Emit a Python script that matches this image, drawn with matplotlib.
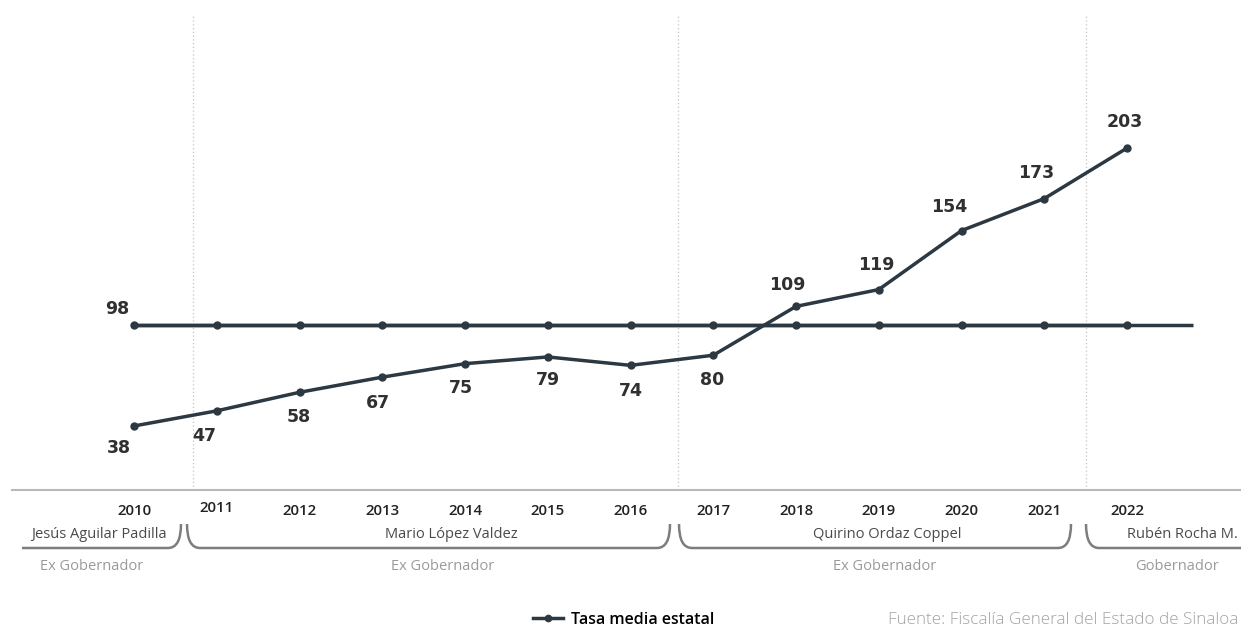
import matplotlib
matplotlib.use("Agg")
import matplotlib.pyplot as plt
from matplotlib.lines import Line2D
from matplotlib.path import Path
from matplotlib.patches import PathPatch

plt.rcParams['font.family'] = ['Open Sans', 'DejaVu Sans']

# datos
years = [2010, 2011, 2012, 2013, 2014, 2015, 2016, 2017, 2018, 2019, 2020, 2021, 2022]
tasa = [38, 47, 58, 67, 75, 79, 74, 80, 109, 119, 154, 173, 203]
media = [98] * len(years)
media_fin = 2022.8
cambios_gobierno = [2010.71, 2016.57, 2021.5]
gobernadores = ['Jesús Aguilar Padilla', 'Mario López Valdez', 'Quirino Ordaz Coppel', 'Rubén Rocha M.']
cargos = ['Ex Gobernador', 'Ex Gobernador', 'Ex Gobernador', 'Gobernador']
leyenda = 'Tasa media estatal'
fuente = 'Fuente: Fiscalía General del Estado de Sinaloa'

# desplazamiento de etiquetas (pixeles)
offs_tasa = [(-15, -22), (-13, -25), (-1, -25), (-4, -26), (-4, -24), (0, -23), (0, -26),
             (-1, -25), (-9, 21), (-2, 25), (-12, 24), (-8, 26), (-2, 26)]
offs_media = (-17, 16)

W, H = 1241, 627
color_linea = '#2c3842'

fig = plt.figure(figsize=(W / 100, H / 100), dpi=100)
ax = fig.add_axes([12 / W, 137 / H, 1 - 12 / W, 475 / H])
ax.set_xlim(2010 - 122 / 82.75, 2010 + 1107 / 82.75)
ax.set_ylim(0, 282)

# lineas divisorias entre gobiernos
ax.vlines(cambios_gobierno, 0, 282, colors='#c2c2c2', linestyles=(0, (1, 2)), lw=0.9)

# tasa media (linea horizontal)
ax.plot([years[0], media_fin], [media[0], media[-1]], color=color_linea, lw=2.5, solid_capstyle='butt')
ax.plot(years, media, color=color_linea, lw=2.5, marker='o', markersize=5)
ax.plot(years, tasa, color=color_linea, lw=2.5, marker='o', markersize=5)

for x, v, (dx, dy) in zip(years, tasa, offs_tasa):
    ax.annotate(str(v), (x, v), xytext=(dx, dy), textcoords='offset pixels',
                ha='center', va='center', fontsize=12.5, fontweight='bold',
                family='DejaVu Sans', color='#303030')
ax.annotate(str(media[0]), (years[0], media[0]), xytext=offs_media, textcoords='offset pixels',
            ha='center', va='center', fontsize=12.5, fontweight='bold',
            family='DejaVu Sans', color='#303030')

ax.set_xticks(years, [str(y) for y in years])
ax.tick_params(axis='x', length=0, pad=10, labelsize=10.8, labelcolor='#222222')
for lbl in ax.get_xticklabels():
    lbl.set_fontweight('semibold')
ax.get_xticklabels()[1].set_y(0.007)
ax.set_yticks([])
for s in ['top', 'left', 'right']:
    ax.spines[s].set_visible(False)
ax.spines['bottom'].set_color('#b8b8b8')
ax.spines['bottom'].set_linewidth(1.5)

# zona inferior: llaves y nombres de gobernadores
deco = fig.add_axes([0, 0, 1, 1])
deco.set_xlim(0, W)
deco.set_ylim(H, 0)
deco.axis('off')
deco.patch.set_alpha(0)


def llave(x0, x1, gancho_izq, gancho_der, y=548, top=524, r=13):
    verts, codes = [], []
    if gancho_izq:
        verts += [(x0, top), (x0, y), (x0 + r, y)]
        codes += [Path.MOVETO, Path.CURVE3, Path.CURVE3]
    else:
        verts += [(x0, y)]
        codes += [Path.MOVETO]
    if gancho_der:
        verts += [(x1 - r, y), (x1, y), (x1, top)]
        codes += [Path.LINETO, Path.CURVE3, Path.CURVE3]
    else:
        verts += [(x1, y)]
        codes += [Path.LINETO]
    deco.add_patch(PathPatch(Path(verts, codes), fill=False, edgecolor='#7d7d7d', lw=1.8))


llave(22, 181, False, True)
llave(187, 670, True, True)
llave(679, 1071, True, True)
llave(1086, 1250, True, False)

x_nombres = [99, 451, 887, 1182]
x_cargos = [92, 443, 885, 1177]
for xn, xc, g, c in zip(x_nombres, x_cargos, gobernadores, cargos):
    deco.text(xn, 535, g, ha='center', va='center', fontsize=10.5, color='#4a4a4a')
    deco.text(xc, 566, c, ha='center', va='center', fontsize=10.5, color='#9a9a9a')

h = Line2D([], [], color=color_linea, lw=2.5, marker='o', markersize=4.5)
fig.legend(handles=[h], labels=[leyenda], loc='center left', bbox_to_anchor=(533 / W, 7 / H),
           frameon=False, handlelength=1.9, handletextpad=0.5, borderpad=0, borderaxespad=0,
           prop=dict(family='Open Sans', weight='semibold', size=11.5))
fig.text(1238 / W, 7 / H, fuente, ha='right', va='center', color='#a3a3a3',
         fontsize=12.3, fontweight='light')

fig.savefig('out.png', dpi=100)
